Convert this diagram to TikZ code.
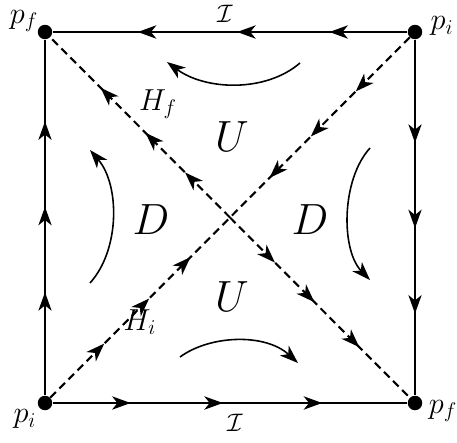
\documentclass[tikz,border=0pt]{standalone}
\usetikzlibrary{arrows.meta}
\usetikzlibrary{decorations.markings}
\usetikzlibrary{positioning}
\newcommand{\corner}[4]{\node (#1) [dot] at (#2) {}; \node (#1lab) [plabel] at (#3) {#4};}
\tikzset{>={Stealth[length=10.5pt,width=7.5pt,inset=3pt]}}
\tikzstyle{dot} = [circle, fill=black, inner sep=0pt, minimum size=0.29cm]
\tikzstyle{plabel} = [font=\LARGE, inner sep=0pt]
\tikzstyle{scri} = [font=\Large, inner sep=0pt]
\tikzstyle{region} = [font=\fontsize{25}{30}\selectfont, inner sep=0pt]
\tikzstyle{hflow} = [line width=1.6pt, postaction={decorate}, decoration={markings,
	mark=at position 0.22 with {\arrow{>}}, mark=at position 0.48 with {\arrow{>}},
	mark=at position 0.76 with {\arrow{>}}}]
\tikzstyle{vflow} = [line width=1pt, postaction={decorate}, decoration={markings,
	mark=at position 0.29 with {\arrow{>}}, mark=at position 0.53 with {\arrow{>}},
	mark=at position 0.77 with {\arrow{>}}}]
\tikzstyle{inflow} = [line width=1.2pt, dash pattern=on 4.5pt off 2.8pt, postaction={decorate}, decoration={markings,
	mark=at position 0.30 with {\arrow{>}}, mark=at position 0.55 with {\arrow{>}},
	mark=at position 0.78 with {\arrow{>}}}]
\tikzstyle{outflow} = [line width=1.2pt, dash pattern=on 4.5pt off 2.8pt, postaction={decorate}, decoration={markings,
	mark=at position 0.25 with {\arrow{>}}, mark=at position 0.47 with {\arrow{>}},
	mark=at position 0.72 with {\arrow{>}}}]
\tikzstyle{turn} = [line width=0.9pt, ->]

\begin{document}
\begin{tikzpicture}[x=0.02cm, y=-0.02cm]
	\useasboundingbox (0,0) rectangle (457,443);

	% corners of the diagram
	\corner{tl}{45,32}{24,21}{$p_f$}
	\corner{tr}{415,32}{442,26}{$p_i$}
	\corner{bl}{45,403}{25,419}{$p_i$}
	\corner{br}{415,403}{443,411}{$p_f$}
	\coordinate (c) at (230,217.5);

	% boundary
	\draw[hflow] (tr) -- (tl);
	\draw[hflow] (bl) -- (br);
	\draw[vflow] (bl) -- (tl);
	\draw[vflow] (tr) -- (br);
	\node[scri] (itop) at (225,14) {$\mathcal{I}$};
	\node[scri] (ibot) at (235,423) {$\mathcal{I}$};

	% horizons
	\draw[inflow] (tr) -- (c);
	\draw[inflow] (bl) -- (c);
	\draw[outflow] (c) -- (tl);
	\draw[outflow] (c) -- (br);
	\node[plabel] (hf) at (158,104) {$H_f$};
	\node[plabel] (hi) at (140,322) {$H_i$};

	% regions
	\node[region] (utop) at (232,137) {$U$};
	\node[region] (ubot) at (232,297) {$U$};
	\node[region] (dleft) at (151,220) {$D$};
	\node[region] (dright) at (310,220) {$D$};

	% rotation arrows
	\coordinate (ua) at (300,63);
	\coordinate (ub) at (167,62);
	\draw[turn] (ua) .. controls (265,93) and (205,90) .. (ub);
	\coordinate (la) at (180,357);
	\coordinate (lb) at (298,363);
	\draw[turn] (la) .. controls (210,335) and (265,333) .. (lb);
	\coordinate (da) at (90,283);
	\coordinate (db) at (90,150);
	\draw[turn] (da) .. controls (120,250) and (120,185) .. (db);
	\coordinate (ea) at (370,148);
	\coordinate (eb) at (370,280);
	\draw[turn] (ea) .. controls (341,180) and (341,250) .. (eb);
\end{tikzpicture}
\end{document}
